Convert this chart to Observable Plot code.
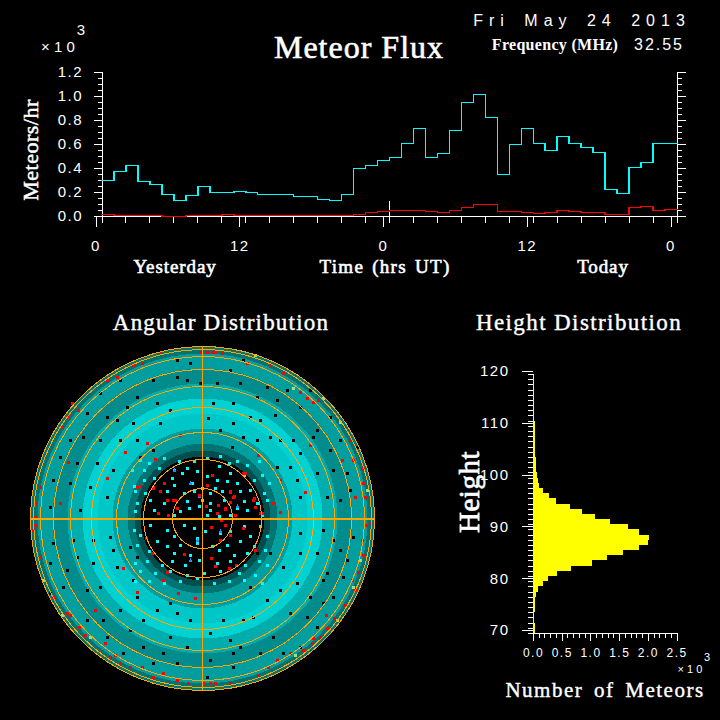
<!DOCTYPE html>
<html><head><meta charset="utf-8">
<script src="https://cdn.jsdelivr.net/npm/d3@7"></script>
<script src="https://cdn.jsdelivr.net/npm/@observablehq/plot@0.6"></script>
<style>
html,body{margin:0;padding:0;background:#000}
#c{position:relative;width:720px;height:720px;background:#000;overflow:hidden}
#c svg{position:absolute;overflow:visible}
#c svg *{shape-rendering:crispEdges}
#c svg text{letter-spacing:1.5px}
.l{position:absolute;color:#fff;white-space:pre;line-height:1;transform-origin:center}
</style></head><body><div id="c"></div>
<script>
// Flux per hour, thousands of meteors/hr (48 hourly bins)
const hourStart = d3.range(48);
const allMeteors = [.30,.375,.425,.29,.265,.185,.135,.175,.25,.20,.20,.21,.20,.185,.185,.185,.167,.167,.142,.135,.185,.40,.425,.467,.49,.61,.733,.49,.525,.717,.95,1.017,.825,.35,.60,.733,.608,.55,.667,.608,.575,.533,.225,.192,.408,.45,.608,.608];
const filteredMeteors = [.017,.008,.008,.008,.008,0,0,.008,.008,.008,.017,.008,.008,.008,.008,.008,.008,.008,.008,.008,.008,.017,.033,.042,.05,.05,.05,.042,.033,.05,.075,.10,.10,.042,.042,.033,.025,.033,.05,.042,.033,.033,.017,.017,.075,.083,.05,.058];

// Height histogram: lower edge of each 1 km bin, thousands of meteors
const heightLow = d3.range(70,120);
const heightCount = [.035,.035,.015,.015,.03,.03,.03,.05,.08,.175,.26,.42,.66,1.03,1.29,1.57,1.845,2.0,2.02,1.845,1.65,1.34,1.08,.85,.64,.40,.28,.175,.105,.08,.07,.05,.05,.05,.03,.03,.03,.03,.03,.03,.03,.015,.015,.015,.015,.015,.015,.015,.015,.015];

// Angular panel. The outer cloud is too dense to read point by point, so it is
// summarised as estimated coverage per radial band, with gaps seen in the cloud
// listed by hand; the sparse points are listed too.
const bandOuter = [172,165,150,135,120,105,90,75,68,62];
const bandCover = [.45,.62,.55,.68,.82,.78,.62,.45,.3,0];
const gapPts = [[73,103],[111,81],[75,118],[28,148],[15,135],[41,158],[98,111],[128,68],[88,51],[128,101],[65,131],[48,101],[30,71],[18,88],[6,100],[138,78],[115,88],[91,78],[68,81],[41,81],[55,78],[31,95],[78,78],[98,65],[131,48],[115,45],[95,38],[145,45],[75,51],[98,21],[125,21],[138,18],[58,98],[85,128],[108,128],[38,135],[55,121],[31,115],[11,115],[145,95],[155,71],[148,28],
[121,-62],[125,-55],[108,-79],[95,-65],[38,-129],[71,-119],[31,-135],[98,-129],[115,-109],[141,-59],[131,-79],[88,-95],[65,-82],[48,-69],[81,-49],[98,-35],[115,-35],[131,-22],[145,-42],[41,-102],[21,-102],[8,-115],[8,-142],[28,-122],[58,-135],[81,-135],[105,-99],[121,-85],[138,-32],[151,-19],[68,-35],[98,-15],[121,-12],[55,-35],[51,-99],[78,-72],[31,-149],[5,-159],
[-72,-112],[-39,-135],[-59,-129],[-95,-119],[-115,-102],[-139,-69],[-152,-45],[-125,-39],[-102,-69],[-85,-49],[-65,-79],[-45,-92],[-25,-95],[-12,-102],[-92,-19],[-109,-22],[-129,-22],[-149,-25],[-152,-75],[-135,-52],[-115,-72],[-82,-92],[-59,-102],[-32,-119],[-15,-129],[-79,-135],[-49,-145],[-25,-145],[-69,-62],[-89,-32],[-72,-29],[-32,-85],[-65,-39],[-109,-45],[-99,-102],
[-102,125],[-82,138],[-49,138],[-25,141],[-65,121],[-45,115],[-95,101],[-115,105],[-69,95],[-32,108],[-132,78],[-119,81],[-102,78],[-82,78],[-142,61],[-125,55],[-105,55],[-89,48],[-65,78],[-149,38],[-132,35],[-112,31],[-95,21],[-152,11],[-122,8],[-15,138],[-2,135],[-75,111],[-25,158],[-12,155],[-85,98],[-62,61],[-49,68],[-42,95]];
const gridRings = [172,169,162,149,132,111,86,59,30];
const cyanPts = [[-62,58],[-53,55],[-38,60],[-23,57],[-8,57],[5,60],[18,62],[35,57],[45,53],[57,57],[-28,48],[-15,50],[-5,47],[17,52],[27,55],[-58,48],[-70,48],[-43,50],[-68,32],[-58,38],[-48,40],[-30,40],[-20,45],[-10,35],[5,42],[15,38],[28,45],[42,43],[52,38],[60,43],[67,35],[-28,33],[25,37],[35,35],[13,30],[0,30],[-67,27],[-57,25],[-35,27],[-18,25],[-8,27],[8,25],[20,27],[38,27],[48,28],[62,25],[-65,15],[-52,18],[-15,17],[0,18],[8,15],[22,18],[42,17],[55,15],[65,18],[-38,15],[-67,7],[-48,8],[-28,3],[-13,10],[-3,12],[8,8],[28,3],[45,8],[60,3],[-22,7],[5,3],[17,2],[35,10],[-68,-12],[-52,-7],[-35,-12],[-18,-7],[-8,-10],[3,-13],[18,-15],[42,-8],[58,-8],[-28,-18],[-5,-20],[28,-13],[48,-18],[-62,-17],[65,-18],[-65,-27],[-45,-23],[-35,-28],[-22,-27],[-5,-25],[10,-28],[25,-27],[38,-23],[52,-28],[63,-32],[-53,-33],[-28,-35],[-12,-37],[17,-32],[32,-37],[45,-35],[-67,-45],[-55,-43],[-40,-47],[-30,-43],[-17,-47],[-3,-42],[15,-45],[28,-43],[43,-47],[57,-43],[-62,-53],[-47,-55],[-32,-53],[-15,-57],[2,-55],[18,-53],[37,-55],[53,-57],[65,-47],[-67,-63],[-53,-63],[-38,-65],[-22,-63],[-5,-60],[12,-65],[27,-63],[42,-62],[60,-65]];
const redPts = [[132,-100],[110,-125],[125,-110],[88,-135],[111,-120],[153,-72],[143,-87],[56,-157],[8,-165],[1,-165],[13,-165],[28,-165],[66,-149],[75,-142],[101,-132],[118,-119],[124,-97],[161,-37],[163,-7],[168,-5],[160,-22],[150,-62],[156,-54],[-135,-95],[-132,-97],[-123,-109],[-97,-125],[-87,-137],[-92,-139],[-117,-117],[-102,-134],[-82,-145],[-107,-92],[-162,-39],[-167,-7],[-169,-12],[-149,-79],[-49,-159],[-72,-149],[-25,-162],[-60,-149],[-39,-155],[-14,-165],[-50,-35],[-79,-50],[-24,-75],[-65,-74],[-39,-62],[-35,-54],[-7,-80],[20,165],[5,166],[13,166],[45,155],[68,153],[81,145],[98,126],[111,116],[116,118],[105,120],[140,58],[161,50],[161,35],[163,21],[148,78],[151,58],[153,21],[103,26],[51,18],[31,21],[41,45],[15,5],[23,10],[33,3],[28,26],[58,5],[78,38],[108,73],[56,63],[78,6],[71,15],[-130,115],[-135,101],[-140,91],[-85,141],[-95,138],[-60,155],[-42,165],[-124,108],[-132,105],[-69,153],[-2,166],[11,166],[-167,1],[-167,15],[-162,31],[-142,15],[-65,31],[-49,31],[-35,18],[-29,18],[-55,75],[-22,83],[-77,66],[-134,56],[-95,40],[-44,5],[-47,59],[-62,32],[-49,30],[-42,27],[-38,35],[-27,18],[-25,10],[-34,3],[-3,23],[5,33],[10,43],[43,45],[28,27],[32,22],[28,16],[16,13],[4,12],[15,5],[23,9],[19,-2],[9,-9],[23,-7],[28,-17],[18,-22],[9,-40],[34,-47],[27,-50],[13,-48],[-18,-36],[-50,-35],[-56,-20],[53,11],[60,5],[52,20],[41,-10],[53,-32]];
const greenPts = [[135,-102],[151,-69],[158,-42],[93,-137],[-159,-62],[-140,-97],[-112,-119],[53,163],[91,130],[121,120],[138,96],[165,28]];
const bluePts = [[-3,22],[-12,35],[-28,48],[35,12],[-5,-22],[18,-13],[-12,-42]];

const fluxTicks = [0,.2,.4,.6,.8,1.0,1.2];
const fluxMinor = d3.range(0,1.2001,.05);
const hourMajor = [0,12,24,36,48];
const hourMinor = d3.range(0,49,2);
const heightMajor = [70,80,90,100,110,120];
const heightMinor = d3.range(70,121);
const countMajor = [0,.5,1,1.5,2,2.5];
const countMinor = d3.range(0,2.5001,.1);

const box = document.getElementById("c");
const SANS = "'Liberation Sans',sans-serif", SERIF = "'Liberation Serif',serif";
function label(text,x,y,size,opt={}){
  const d=document.createElement("div");d.className="l";d.textContent=text;
  d.style.cssText+=`left:${x}px;top:${y}px;font:${opt.weight||"normal"} ${size}px ${opt.font||SERIF};letter-spacing:${opt.sp||0}px;word-spacing:${opt.ws||0}px;-webkit-text-stroke:${opt.th||0}px #fff;transform:translate(-50%,-50%) rotate(${opt.rot||0}deg)`;
  box.appendChild(d);
}
function place(svg,x,y){svg.style.left=x+"px";svg.style.top=y+"px";box.appendChild(svg);}
const base={style:{background:"transparent",color:"#fff"}};

// ---- Flux panel
const stepped = v => [...hourStart.map((h,i)=>({h,v:v[i]})),{h:48,v:v[47]}];
place(Plot.plot({...base,width:720,height:290,marginLeft:101.5,marginRight:43.5,marginTop:72,marginBottom:74,
  x:{domain:[0,48],axis:null},y:{domain:[0,1.2],axis:null},
  marks:[
    Plot.axisY({anchor:"left",ticks:fluxMinor,tickSize:4,tickFormat:()=>"" ,label:null}),
    Plot.axisY({anchor:"left",ticks:fluxTicks,tickSize:8,tickPadding:11,tickFormat:d3.format(".1f"),fontSize:15,fontFamily:SANS,label:null}),
    Plot.axisY({anchor:"right",ticks:fluxMinor,tickSize:4,tickFormat:()=>"",label:null}),
    Plot.axisY({anchor:"right",ticks:fluxTicks,tickSize:8,tickFormat:()=>"",label:null}),
    Plot.axisX({anchor:"bottom",ticks:hourMinor,tickSize:7,tickFormat:()=>"",label:null}),
    Plot.axisX({anchor:"bottom",ticks:hourMajor,tickSize:11,tickPadding:13,dx:-6,tickFormat:d=>String(d%24),fontSize:15,fontFamily:SANS,label:null}),
    Plot.ruleX([0,48],{stroke:"#fff"}),
    Plot.ruleY([0],{stroke:"#fff"}),
    Plot.ruleX([24],{y1:0,y2:.125,stroke:"#fff"}),
    Plot.line(stepped(allMeteors),{x:"h",y:"v",curve:"step-after",stroke:"#00ffff",strokeWidth:1.5}),
    Plot.line(stepped(filteredMeteors),{x:"h",y:"v",curve:"step-after",stroke:"#ff0000",strokeWidth:1.5})
  ]}),0,0);

// ---- Angular panel
const toPts=a=>a.map(([x,y])=>({x,y}));
place(Plot.plot({...base,width:404,height:360,marginLeft:30,marginRight:30,marginTop:6,marginBottom:10,
  x:{domain:[-172,172],axis:null},y:{domain:[-172,172],axis:null},
  r:{type:"linear",domain:[0,172],range:[0,172]},
  color:{type:"linear",domain:[0,1],range:["#000000","#00ffff"]},
  marks:[
    Plot.dot(bandOuter.map((r,i)=>({r,c:bandCover[i]})),{x:()=>0,y:()=>0,r:"r",fill:"c",stroke:"none"}),
    Plot.dot(toPts(gapPts),{x:"x",y:"y",r:2,symbol:"square",fill:"#000"}),
    Plot.dot(toPts(cyanPts),{x:"x",y:"y",r:1.9,symbol:"square",fill:"#00ffff"}),
    Plot.dot(toPts(greenPts),{x:"x",y:"y",r:1.5,symbol:"square",fill:"#9fdf7f"}),
    Plot.dot(toPts(bluePts),{x:"x",y:"y",r:1.5,symbol:"triangle",fill:"#1e90ff"}),
    Plot.dot(toPts(redPts),{x:"x",y:"y",r:1.7,symbol:"square",fill:"#ff0000"}),
    Plot.dot(gridRings,{x:()=>0,y:()=>0,r:d=>d,fill:"none",stroke:"#ffa500",strokeWidth:1}),
    Plot.ruleY([0],{x1:-172,x2:172,stroke:"#ffa500",strokeWidth:2}),
    Plot.ruleX([0],{y1:-172,y2:172,stroke:"#ffa500",strokeWidth:1})
  ]}),0,340);

// ---- Height panel
place(Plot.plot({...base,width:280,height:320,marginLeft:93,marginRight:43.3,marginTop:24,marginBottom:37,
  x:{domain:[0,2.5],axis:null},y:{domain:[70,120],axis:null},
  marks:[
    Plot.axisY({anchor:"left",ticks:heightMinor,tickSize:5,tickFormat:()=>"",label:null}),
    Plot.axisY({anchor:"left",ticks:heightMajor,tickSize:11,tickPadding:13,dy:-3,tickFormat:d=>String(d),fontSize:15,fontFamily:SANS,label:null}),
    Plot.axisX({anchor:"bottom",ticks:countMinor,tickSize:5,tickFormat:()=>"",label:null}),
    Plot.axisX({anchor:"bottom",ticks:countMajor,tickSize:8,tickPadding:7,tickFormat:d3.format(".1f"),fontSize:12,fontFamily:SANS,label:null}),
    Plot.ruleX([0],{stroke:"#fff"}),
    Plot.ruleY([70],{stroke:"#fff"}),
    Plot.rect(heightLow.map((h,i)=>({h,n:heightCount[i]})),{x1:()=>0,x2:"n",y1:"h",y2:d=>d.h+1,fill:"#ffff00"})
  ]}),440,350);

// ---- Text
label("Meteor Flux",359,47,32,{sp:1,th:.6});
label("Fri May 24 2013",582,21,16,{font:SANS,sp:6,ws:4});
label("Frequency (MHz)",555,45,16,{weight:"bold",sp:.3});
label("32.55",659,45,16,{font:SANS,sp:2});
label("× 1 0",58,46,15,{font:SANS});
label("3",81,29,15,{font:SANS});
label("Meteors/hr",31,150,22,{rot:-90,sp:.5,th:.5});
label("Yesterday",175,267,19,{sp:.9,th:.6});
label("Time (hrs UT)",385,267,19,{sp:1.3,th:.6,ws:2});
label("Today",603,267,19,{sp:.9,th:.6});
label("Angular Distribution",221,323,23,{sp:1.2,th:.4});
label("Height Distribution",579,323,23,{sp:1.4,th:.4});
label("Height",469,492,29,{rot:-90,sp:.5,th:.7});
label("Number of Meteors",605,690,21,{sp:1.5,ws:4,th:.4});
label("× 1 0",690,669,11,{font:SANS});
label("3",707,657,11,{font:SANS});
</script></body></html>
